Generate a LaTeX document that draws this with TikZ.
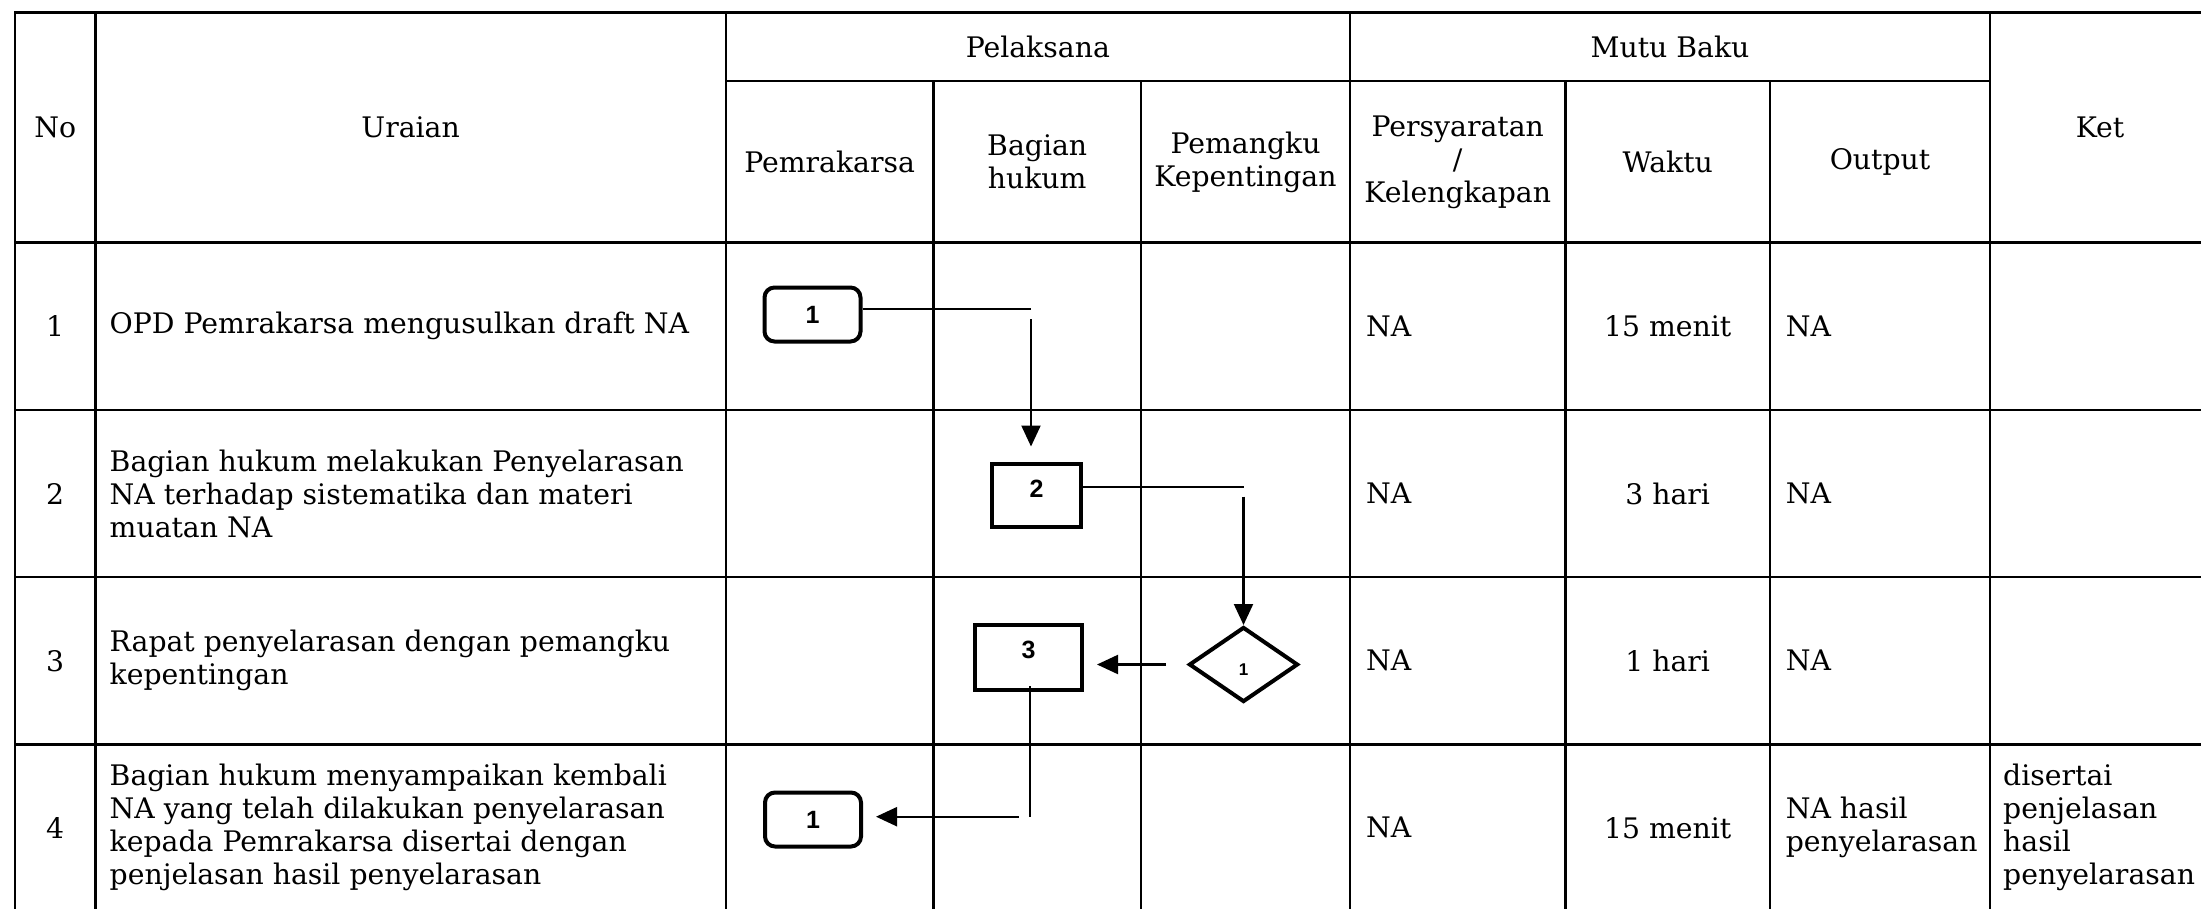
\documentclass[tikz,border=0pt]{standalone}
\usepackage{fontspec}
\setmainfont{DejaVu Serif}
\newfontfamily\digitfont{Liberation Sans}
\usetikzlibrary{arrows.meta,shapes.geometric}
\begin{document}
\begin{tikzpicture}[x=1pt,y=-1pt,
  grid/.style={line width=2.4pt, line cap=rect},
  txt/.style={font=\fontsize{28.3}{33}\selectfont, inner sep=0pt, align=center},
  ltxt/.style={txt, anchor=west, align=left},
  digit/.style={font=\digitfont\bfseries\fontsize{25}{25}\selectfont, inner sep=0pt},
  smalldigit/.style={font=\digitfont\bfseries\fontsize{17}{17}\selectfont, inner sep=0pt},
  rbox/.style={draw, line width=4pt, rounded corners=10pt, minimum width=96pt, minimum height=54pt, inner sep=0pt, digit},
  pbox/.style={draw, line width=4pt, inner sep=0pt},
  decis/.style={draw, diamond, line width=4pt, minimum width=109pt, minimum height=75pt, inner sep=0pt},
  conn/.style={line width=1.6pt},
  arr/.style={line width=2.2pt, -{Triangle[length=21pt,width=19pt]}}
]
\useasboundingbox (0,0) rectangle (2201,908);
% table grid
\draw[grid] (15,12.5) -- (2201,12.5);
\draw[grid] (725.7,81) -- (1990,81);
\foreach \yy in {242.5,410,577,744.5} \draw[grid] (15,\yy) -- (2201,\yy);
\foreach \xx in {15,95.5,725.7,1350,1990} \draw[grid] (\xx,12.5) -- (\xx,915);
\foreach \xx in {933.5,1141,1565.5,1770} \draw[grid] (\xx,81) -- (\xx,915);
% header
\node[txt] (hno) at (55.25,127.5) {No};
\node[txt] (hur) at (410.6,127.5) {Uraian};
\node[txt] (hpel) at (1037.8,47) {Pelaksana};
\node[txt] (hmutu) at (1670,47) {Mutu Baku};
\node[txt] (hket) at (2100,127.5) {Ket};
\node[txt] (hpem) at (829.6,162) {Pemrakarsa};
\node[txt] (hbag) at (1037.2,162) {Bagian\\hukum};
\node[txt] (hpk) at (1245.5,162) {Pemangku\\Kepentingan};
\node[txt] (hps) at (1457.7,162) {Persyaratan\\/\\Kelengkapan};
\node[txt] (hwk) at (1667.7,162) {Waktu};
\node[txt] (hout) at (1880,162) {Output};
% row 1
\node[txt] (n1) at (55.25,326.2) {1};
\node[ltxt] (u1) at (109.5,326.2) {OPD Pemrakarsa mengusulkan draft NA};
\node[ltxt] (p1) at (1366,326.2) {NA};
\node[txt] (w1) at (1667.7,326.2) {15 menit};
\node[ltxt] (o1) at (1785.6,326.2) {NA};
% row 2
\node[txt] (n2) at (55.25,493.5) {2};
\node[ltxt] (u2) at (109.5,493.5) {Bagian hukum melakukan Penyelarasan\\NA terhadap sistematika dan materi\\muatan NA};
\node[ltxt] (p2) at (1366,493.5) {NA};
\node[txt] (w2) at (1667.7,493.5) {3 hari};
\node[ltxt] (o2) at (1785.6,493.5) {NA};
% row 3
\node[txt] (n3) at (55.25,660.7) {3};
\node[ltxt] (u3) at (109.5,660.7) {Rapat penyelarasan dengan pemangku\\kepentingan};
\node[ltxt] (p3) at (1366,660.7) {NA};
\node[txt] (w3) at (1667.7,660.7) {1 hari};
\node[ltxt] (o3) at (1785.6,660.7) {NA};
% row 4
\node[txt] (n4) at (55.25,827.8) {4};
\node[ltxt] (u4) at (109.5,827.8) {Bagian hukum menyampaikan kembali\\NA yang telah dilakukan penyelarasan\\kepada Pemrakarsa disertai dengan\\penjelasan hasil penyelarasan};
\node[ltxt] (p4) at (1366,827.8) {NA};
\node[txt] (w4) at (1667.7,827.8) {15 menit};
\node[ltxt] (o4) at (1785.6,827.8) {NA hasil\\penyelarasan};
\node[ltxt] (k4) at (2003,827.8) {disertai\\penjelasan\\hasil\\penyelarasan};
% flow shapes
\node[rbox] (b1a) at (812.5,314.5) {1};
\node[pbox, minimum width=89pt, minimum height=63pt, label={[digit, yshift=6.5pt]center:2}] (b2) at (1036.5,495) {};
\node[pbox, minimum width=107pt, minimum height=65pt, label={[digit, yshift=7.5pt]center:3}] (b3) at (1028.5,657.5) {};
\node[decis, label={[smalldigit, yshift=-5pt]center:1}] (dia) at (1243.5,664.5) {};
\node[rbox] (b1b) at (813,819.5) {1};
% connectors
\coordinate (c1) at (1031,309);
\coordinate (c1v) at (1031,319);
\draw[conn] (b1a.east |- c1) -- (c1);
\draw[arr, shorten >=15pt] (c1v) -- (c1v |- b2.north);
\coordinate (c2) at (1243.5,486.7);
\coordinate (c2v) at (1243.5,496.7);
\draw[conn] (b2.east |- c2) -- (c2);
\draw[arr] (c2v) -- (dia.north);
\draw[arr, shorten <=21pt, shorten >=13pt] (dia.west) -- (b3.east |- dia.west);
\coordinate (c3) at (1029.5,816.7);
\coordinate (c3h) at (1018.5,816.7);
\draw[line width=2pt] ([yshift=6pt]b3.south -| c3) -- (c3);
\draw[arr, shorten >=13pt] (c3h) -- (b1b.east |- c3h);
\end{tikzpicture}
\end{document}
